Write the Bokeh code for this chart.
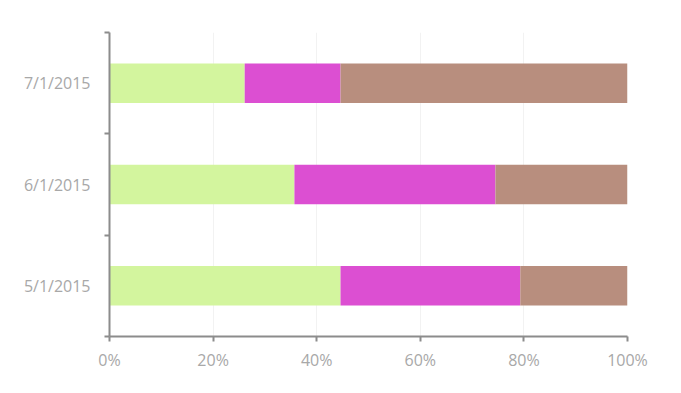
from bokeh.plotting import figure
from bokeh.models import FixedTicker, NumeralTickFormatter, Range1d
from bokeh.embed import file_html
from bokeh.resources import INLINE

categories = ["5/1/2015", "6/1/2015", "7/1/2015"]
series_a = [44.6, 35.7, 26.1]
series_b = [34.7, 38.8, 18.5]
series_c = [20.7, 25.5, 55.4]
colors = ["#d3f59e", "#dc4fd2", "#b88e7e"]

ypos = [i + 0.5 for i in range(len(categories))]
totals = [a + b + c for a, b, c in zip(series_a, series_b, series_c)]
fa = [a / t for a, t in zip(series_a, totals)]
fb = [b / t for b, t in zip(series_b, totals)]
fc = [c / t for c, t in zip(series_c, totals)]

p = figure(width=673, height=385, output_backend="svg", toolbar_location=None,
           x_range=Range1d(0, 1), y_range=Range1d(0, len(categories)),
           min_border_left=109, min_border_right=46, min_border_top=32, min_border_bottom=49)
p.outline_line_color = None

left = [0.0] * len(categories)
for vals, col in zip([fa, fb, fc], colors):
    right = [l + v for l, v in zip(left, vals)]
    p.hbar(y=ypos, left=left, right=right, height=0.39, color=col, line_color=None)
    left = right

p.xaxis.ticker = FixedTicker(ticks=[0, 0.2, 0.4, 0.6, 0.8, 1.0])
p.xaxis.formatter = NumeralTickFormatter(format="0%")
p.yaxis.ticker = FixedTicker(ticks=ypos, minor_ticks=list(range(len(categories) + 1)))
p.yaxis.major_label_overrides = {y: c for y, c in zip(ypos, categories)}

for ax in [p.xaxis[0], p.yaxis[0]]:
    ax.axis_line_color = "#8c8c8c"
    ax.axis_line_width = 2
    ax.major_tick_line_color = "#8c8c8c"
    ax.minor_tick_line_color = "#8c8c8c"
    ax.major_tick_line_width = 2
    ax.minor_tick_line_width = 2
    ax.major_label_text_font = "Open Sans"
    ax.major_label_text_font_size = "16px"
    ax.major_label_text_color = "#a8a8a8"
    ax.minor_tick_in = 0

p.xaxis.major_tick_in = 0
p.xaxis.major_tick_out = 5
p.xaxis.minor_tick_out = 0
p.xaxis.major_label_standoff = 7
p.yaxis.major_tick_in = 0
p.yaxis.major_tick_out = 0
p.yaxis.minor_tick_out = 5
p.yaxis.major_label_standoff = 14

p.xgrid.grid_line_color = "#f2f2f2"
p.xgrid.grid_line_width = 1
p.ygrid.grid_line_color = None

open("out.html", "w").write(file_html(p, INLINE))
